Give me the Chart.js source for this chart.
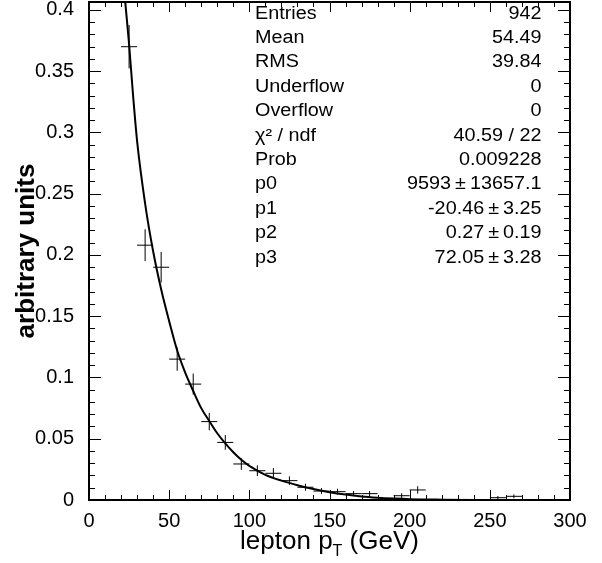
<!DOCTYPE html>
<html>
<head>
<meta charset="utf-8">
<title>lepton pT</title>
<script src="https://cdn.jsdelivr.net/npm/chart.js@4.4.1/dist/chart.umd.min.js"></script>
<style>
  body { margin: 0; background: #fff; }
  #wrap { width: 602px; height: 563px; }
</style>
</head>
<body>
<div id="wrap"><canvas id="ptChart" width="602" height="563"></canvas></div>
<script>
// histogram: 10 GeV bins, centres in GeV
const binCenters = [25, 35, 45, 55, 65, 75, 85, 95, 105, 115, 125, 135, 145, 155, 165, 175, 185, 195, 205, 215, 225, 235, 245, 255, 265];
const binValues  = [0.370, 0.208, 0.190, 0.115, 0.0946, 0.064, 0.047, 0.0294, 0.0239, 0.0218, 0.0158, 0.0104, 0.0073, 0.0068, 0.0052, 0.0052, 0, 0.0035, 0.0082, 0, 0, 0, 0, 0.0019, 0.003];
const binErrors  = [0.0177, 0.013, 0.0125, 0.0095, 0.0086, 0.0071, 0.006, 0.0048, 0.0044, 0.0042, 0.0035, 0.0029, 0.0024, 0.0024, 0.0021, 0.0021, 0, 0.002, 0.003, 0, 0, 0, 0, 0.0013, 0.0016];
const binHalfWidth = 5;

// fit function
const fitX = [22.6, 25, 27.5, 30, 35, 40, 45, 50, 55, 60, 65, 70, 75, 80, 85, 90, 95, 100, 110, 120, 130, 140, 150, 160, 170, 180, 190, 200, 220, 240, 260, 280, 300];
const fitY = [0.4065, 0.372, 0.330, 0.293, 0.242, 0.203, 0.172, 0.146, 0.122, 0.104, 0.089, 0.075, 0.0645, 0.0545, 0.0462, 0.039, 0.0328, 0.0278, 0.0205, 0.0158, 0.0121, 0.009, 0.0064, 0.0044, 0.0029, 0.0019, 0.0012, 0.0007, 0.0003, 0.0001, 0.00005, 0.00002, 0.00001];

const xTicks = [0, 50, 100, 150, 200, 250, 300];
const yTicks = [0, 0.05, 0.1, 0.15, 0.2, 0.25, 0.3, 0.35, 0.4];
const yTickLabels = ['0', '0.05', '0.1', '0.15', '0.2', '0.25', '0.3', '0.35', '0.4'];

const statsLabels = ['Entries', 'Mean', 'RMS', 'Underflow', 'Overflow', 'χ² / ndf', 'Prob', 'p0', 'p1', 'p2', 'p3'];
const statsValues = ['942', '54.49', '39.84', '0', '0', '40.59 / 22', '0.009228',
  '9593\u2009±\u200913657.1', '-20.46\u2009±\u20093.25', '0.27\u2009±\u20090.19', '72.05\u2009±\u20093.28'];

const FONT = "'Liberation Sans', Arial, sans-serif";
Chart.defaults.font.family = FONT;
Chart.defaults.color = '#000';

// each bin becomes a cross: horizontal bin width + vertical error bar
const crossPoints = [];
binCenters.forEach((c, i) => {
  const v = binValues[i], e = binErrors[i];
  crossPoints.push({x: c - binHalfWidth, y: v}, {x: c + binHalfWidth, y: v}, {x: c, y: null});
  crossPoints.push({x: c, y: v - e}, {x: c, y: v + e}, {x: c, y: null});
});
const fitPoints = fitX.map((x, i) => ({x: x, y: fitY[i]}));

// frame, inward ticks, stats box and x title with subscript
const histDecor = {
  id: 'histDecor',
  afterDraw(chart) {
    const {ctx, chartArea: a, scales: {x, y}} = chart;
    ctx.save();
    ctx.strokeStyle = '#000';
    ctx.lineWidth = 1;
    ctx.beginPath();
    for (let i = 0; i <= 30; i++) {
      const px = Math.round(x.getPixelForValue(i * 10)) + 0.5;
      const len = i % 5 === 0 ? 10 : 5;
      ctx.moveTo(px, a.bottom); ctx.lineTo(px, a.bottom - len);
      ctx.moveTo(px, a.top); ctx.lineTo(px, a.top + len);
    }
    for (let i = 0; i <= 40; i++) {
      const py = Math.round(y.getPixelForValue(i * 0.01)) + 0.5;
      const len = i % 5 === 0 ? 12 : 6;
      ctx.moveTo(a.left, py); ctx.lineTo(a.left + len, py);
      ctx.moveTo(a.right, py); ctx.lineTo(a.right - len, py);
    }
    ctx.stroke();
    ctx.lineWidth = 2;
    ctx.strokeRect(a.left, a.top, a.right - a.left, a.bottom - a.top);

    // stats box text (ROOT style, no border)
    ctx.fillStyle = '#000';
    ctx.font = '18px ' + FONT;
    const sx = 1.1;
    statsLabels.forEach((lab, i) => {
      const by = a.top + 16.5 + i * 24.4;
      ctx.save();
      ctx.translate(a.left + 166, by);
      ctx.scale(sx, 1);
      ctx.textAlign = 'left';
      ctx.fillText(lab, 0, 0);
      ctx.restore();
      ctx.save();
      ctx.translate(a.right - 28.5, by);
      ctx.scale(sx, 1);
      ctx.textAlign = 'right';
      ctx.fillText(statsValues[i], 0, 0);
      ctx.restore();
    });

    // x axis title: lepton p_T (GeV)
    const big = '26px ' + FONT, small = '16px ' + FONT;
    ctx.font = big;
    const w1 = ctx.measureText('lepton p').width;
    const w3 = ctx.measureText(' (GeV)').width;
    ctx.font = small;
    const w2 = ctx.measureText('T').width;
    let tx = (a.left + a.right) / 2 - (w1 + w2 + w3) / 2;
    const ty = 549;
    ctx.textAlign = 'left';
    ctx.font = big;
    ctx.fillText('lepton p', tx, ty);
    tx += w1;
    ctx.font = small;
    ctx.fillText('T', tx, ty + 7);
    tx += w2;
    ctx.font = big;
    ctx.fillText(' (GeV)', tx, ty);
    ctx.restore();
  }
};

new Chart(document.getElementById('ptChart'), {
  type: 'scatter',
  data: {
    datasets: [{
      label: 'fit',
      data: fitPoints,
      showLine: true,
      borderColor: '#000',
      borderWidth: 2,
      pointRadius: 0,
      cubicInterpolationMode: 'monotone'
    }, {
      label: 'lepton pT',
      data: crossPoints,
      showLine: true,
      spanGaps: false,
      borderColor: '#000',
      borderWidth: 1,
      pointRadius: 0
    }]
  },
  options: {
    responsive: false,
    animation: false,
    layout: { padding: { top: 2, right: 32, left: 0, bottom: 0 } },
    plugins: {
      legend: { display: false },
      tooltip: { enabled: false }
    },
    scales: {
      x: {
        type: 'linear',
        min: 0,
        max: 300,
        grid: { display: false },
        border: { display: false },
        afterBuildTicks: (s) => { s.ticks = xTicks.map(v => ({value: v})); },
        afterFit: (s) => { s.height = 63; s.paddingLeft = 0; s.paddingRight = 0; },
        ticks: { font: { size: 20 }, padding: 1, maxRotation: 0, color: '#000' }
      },
      y: {
        type: 'linear',
        min: 0,
        max: 0.4065,
        grid: { display: false },
        border: { display: false },
        afterBuildTicks: (s) => { s.ticks = yTicks.map(v => ({value: v})); },
        afterFit: (s) => { s.width = 89; s.paddingTop = 0; s.paddingBottom = 0; },
        ticks: {
          font: { size: 20 },
          padding: 7,
          color: '#000',
          callback: (v, i) => yTickLabels[i]
        },
        title: {
          display: true,
          text: 'arbitrary units',
          font: { size: 26, weight: 'bold' },
          color: '#000',
          padding: { top: 11, bottom: 0 }
        }
      }
    }
  },
  plugins: [histDecor]
});
</script>
</body>
</html>
